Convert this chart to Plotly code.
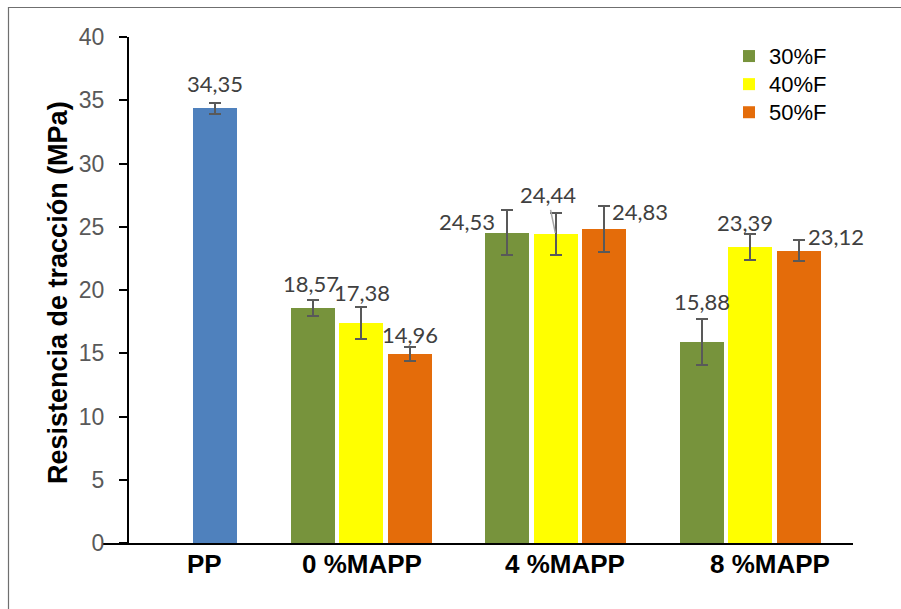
import plotly.graph_objects as go

# ---- data -------------------------------------------------------------
categories = ["PP", "0 %MAPP", "4 %MAPP", "8 %MAPP"]
series_names = ["30%F", "40%F", "50%F"]

pp_value = 34.35
pp_error = 0.45

vals_30 = [18.57, 24.53, 15.88]
vals_40 = [17.38, 24.44, 23.39]
vals_50 = [14.96, 24.83, 23.12]

err_30 = [0.65, 1.78, 1.80]
err_40 = [1.28, 1.65, 1.05]
err_50 = [0.55, 1.85, 0.86]

y_ticks = [0, 5, 10, 15, 20, 25, 30, 35, 40]

# ---- styling / layout constants --------------------------------------
W, H = 901, 609
PLOT_L, PLOT_R, PLOT_T, PLOT_B = 103, 853, 37, 543
UNIT = 194.5           # pixels per category step
X0_PX = 166.5          # pixel position of category 0
x_range = [(PLOT_L - X0_PX) / UNIT, (PLOT_R - X0_PX) / UNIT]
slot = [-48.5 / UNIT, 0.0, 48.5 / UNIT]
bar_w = 44 / UNIT

colors = ["#77933C", "#FFFF00", "#E46C0A"]
pp_color = "#4F81BD"
err_color = "#595959"
label_color = "#404040"

# pixel offsets of each value label from the bar top centre
pp_label_shift = (0, 25)
label_shift = [
    [(-1.5, 25), (-40, 11), (0, 41)],
    [(1, 31), (-8, 39), (-5, 25)],
    [(0, 19), (36, 17), (37, 14.5)],
]
# label drawn with a leader line (series index, group index)
leader = (1, 1)

# category label centres (in axis units)
cat_label_x = [(204 - X0_PX) / UNIT, (362 - X0_PX) / UNIT,
               (565 - X0_PX) / UNIT, (770 - X0_PX) / UNIT]


def px_x(p):
    return (p - PLOT_L) / (PLOT_R - PLOT_L)


def px_y(p):
    return (PLOT_B - p) / (PLOT_B - PLOT_T)


def fmt(v):
    return f"{v:.2f}".replace(".", ",")


fig = go.Figure()

# PP reference bar
fig.add_trace(go.Bar(
    x=[0 + slot[2]], y=[pp_value], width=bar_w,
    marker=dict(color=pp_color, line=dict(width=0)),
    error_y=dict(type="data", array=[pp_error], color=err_color,
                 thickness=2, width=6),
    showlegend=False, name="PP",
))

all_vals = [vals_30, vals_40, vals_50]
all_errs = [err_30, err_40, err_50]
for i, name in enumerate(series_names):
    xs = [g + slot[i] for g in (1, 2, 3)]
    fig.add_trace(go.Bar(
        x=xs, y=all_vals[i], width=bar_w,
        name=f'<span style="font-size:22px">{name}</span>',
        marker=dict(color=colors[i], line=dict(width=0)),
        error_y=dict(type="data", array=all_errs[i], color=err_color,
                     thickness=2, width=6),
    ))

annotations = []
label_font = dict(family="Lato, Liberation Sans, sans-serif", size=22,
                  color=label_color)

annotations.append(dict(
    x=0 + slot[2], y=pp_value, xref="x", yref="y", text=fmt(pp_value),
    showarrow=False, xshift=pp_label_shift[0], yshift=pp_label_shift[1],
    xanchor="center", yanchor="middle", font=label_font,
))
for i in range(3):
    for j, g in enumerate((1, 2, 3)):
        dx, dy = label_shift[i][j]
        v = all_vals[i][j]
        if (i, j) == leader:
            annotations.append(dict(
                x=g + slot[i], y=v, xref="x", yref="y", text=fmt(v),
                showarrow=True, arrowhead=0, arrowwidth=1.5,
                arrowcolor="#A6A6A6", ax=dx, ay=-dy, standoff=1,
                font=label_font,
            ))
        else:
            annotations.append(dict(
                x=g + slot[i], y=v, xref="x", yref="y", text=fmt(v),
                showarrow=False, xshift=dx, yshift=dy,
                xanchor="center", yanchor="middle", font=label_font,
            ))

# category labels
for cx, txt in zip(cat_label_x, categories):
    annotations.append(dict(
        x=cx, y=0, xref="x", yref="y", text=f"<b>{txt}</b>",
        showarrow=False, yshift=-21, xanchor="center", yanchor="middle",
        font=dict(family="Liberation Sans, Arial, sans-serif", size=26,
                  color="#000000"),
    ))

# y-axis title
annotations.append(dict(
    x=px_x(58), y=px_y(293), xref="paper", yref="paper",
    text="<b>Resistencia de tracción (MPa)</b>", textangle=-90,
    showarrow=False, xanchor="center", yanchor="middle",
    font=dict(family="Liberation Sans, Arial, sans-serif", size=27,
              color="#000000"),
))

# outer frame lines
shapes = [
    dict(type="line", xref="paper", yref="paper",
         x0=px_x(8), y0=px_y(7.5), x1=px_x(905), y1=px_y(7.5),
         line=dict(color="#6F6F6F", width=1.2)),
    dict(type="line", xref="paper", yref="paper",
         x0=px_x(8.5), y0=px_y(7), x1=px_x(8.5), y1=px_y(615),
         line=dict(color="#6F6F6F", width=1.2)),
]

fig.update_layout(
    width=W, height=H,
    margin=dict(l=PLOT_L, r=W - PLOT_R, t=PLOT_T, b=H - PLOT_B),
    paper_bgcolor="white", plot_bgcolor="white",
    barmode="overlay", bargap=0,
    font=dict(family="Liberation Sans, Arial, sans-serif"),
    xaxis=dict(
        range=x_range, showgrid=False, zeroline=False,
        showline=True, linecolor="#000000", linewidth=2,
        ticks="", showticklabels=False, fixedrange=True,
    ),
    yaxis=dict(
        range=[0, 40], tickvals=y_ticks, showgrid=False, zeroline=False,
        showline=True, linecolor="#000000", linewidth=2,
        ticks="outside", ticklen=8, tickwidth=1.5, tickcolor="#000000",
        tickfont=dict(family="Liberation Sans, Arial, sans-serif",
                      size=23, color="#595959"),
        ticklabelstandoff=10,
        anchor="free", position=px_x(128),
    ),
    legend=dict(
        x=px_x(729), y=px_y(37), xanchor="left", yanchor="top",
        bgcolor="rgba(0,0,0,0)",
        font=dict(family="Liberation Sans, Arial, sans-serif", size=19.3,
                  color="#000000"),
        tracegroupgap=0,
    ),
    annotations=annotations,
    shapes=shapes,
)

fig.write_html("out.html")
